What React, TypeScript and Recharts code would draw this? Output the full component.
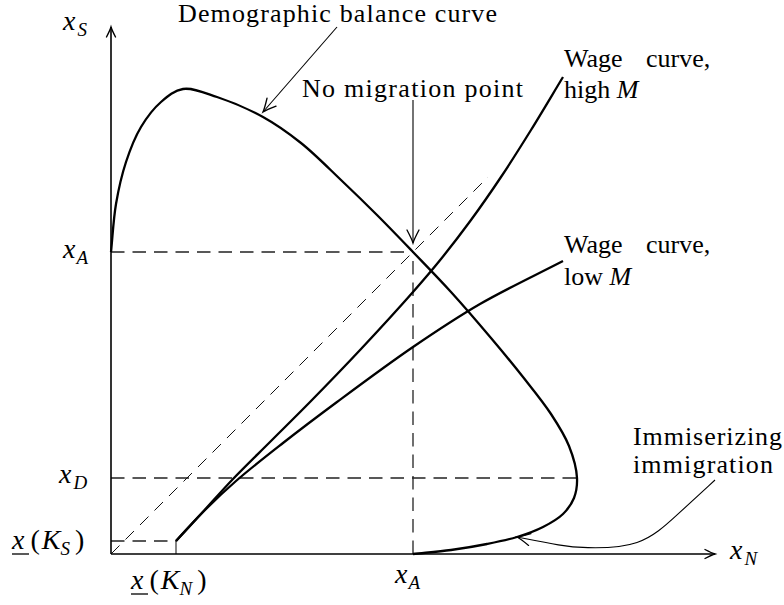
import React from 'react';
import { LineChart, Line, XAxis, YAxis, ReferenceDot } from 'recharts';

type Pt = { x: number; y: number };

// ---- axis extents and reference levels (data units) ----
const X_MAX = 604;
const Y_MAX = 527;
const XA = 302; // x_A
const XD = 76; // x_D
const XKS = 13; // x(K_S)
const XKN = 65; // x(K_N)
const DIAG_END = 377;

// ---- curves ----
const demographicCurve: Pt[] = [
  { x: 0, y: 302 }, { x: 5, y: 350 }, { x: 15, y: 392 }, { x: 30, y: 427 },
  { x: 50, y: 452 }, { x: 72, y: 465 }, { x: 106, y: 457 }, { x: 152, y: 437 },
  { x: 190, y: 411 }, { x: 230, y: 374 }, { x: 266, y: 339 }, { x: 302, y: 302 },
  { x: 340, y: 262 }, { x: 380, y: 216 }, { x: 412, y: 177 }, { x: 440, y: 140 },
  { x: 458, y: 108 }, { x: 466, y: 76 }, { x: 463, y: 56 }, { x: 452, y: 40 },
  { x: 432, y: 27 }, { x: 406, y: 17 }, { x: 376, y: 10 }, { x: 340, y: 4 },
  { x: 302, y: 0 },
];

const wageHighM: Pt[] = [
  { x: 65, y: 13 }, { x: 90, y: 40 }, { x: 122, y: 75 }, { x: 160, y: 113 },
  { x: 200, y: 153 }, { x: 250, y: 205 }, { x: 302, y: 262 }, { x: 330, y: 295 },
  { x: 360, y: 334 }, { x: 390, y: 377 }, { x: 420, y: 424 }, { x: 452, y: 477 },
];

const wageLowM: Pt[] = [
  { x: 65, y: 13 }, { x: 90, y: 40 }, { x: 125, y: 73 }, { x: 172, y: 111 },
  { x: 226, y: 152 }, { x: 302, y: 207 }, { x: 369, y: 250 }, { x: 452, y: 293 },
];

// ---- guide lines ----
const guideXAh: Pt[] = [{ x: 0, y: XA }, { x: XA, y: XA }];
const guideXAv: Pt[] = [{ x: XA, y: 0 }, { x: XA, y: XA }];
const guideXD: Pt[] = [{ x: 0, y: XD }, { x: 466, y: XD }];
const guideKS: Pt[] = [{ x: 0, y: XKS }, { x: XKN, y: XKS }];
const guideKN: Pt[] = [{ x: XKN, y: 0 }, { x: XKN, y: XKS }];
const diagonal: Pt[] = [{ x: 0, y: 0 }, { x: DIAG_END, y: DIAG_END }];

// ---- axes and annotation arrows ----
const xAxisLine: Pt[] = [{ x: 0, y: 0 }, { x: X_MAX, y: 0 }];
const yAxisLine: Pt[] = [{ x: 0, y: 0 }, { x: 0, y: Y_MAX }];
const demoArrow: Pt[] = [{ x: 226, y: 527 }, { x: 152, y: 442 }];
const noMigArrow: Pt[] = [{ x: 302, y: 454 }, { x: 302, y: 311 }];
const immArrow: Pt[] = [
  { x: 604, y: 74 }, { x: 566, y: 39 }, { x: 530, y: 6 },
  { x: 470, y: 6 }, { x: 452, y: 8 }, { x: 406, y: 17 },
];

const SERIF = '"Liberation Serif", "Times New Roman", serif';
const TXT = 26;
const SUB = 19;
const MATH = 28;

// centripetal Catmull-Rom curve factory (smooth curve through the read points)
const catmullRom = (context: any) => {
  let pts: number[][] = [];
  return {
    areaStart() {},
    areaEnd() {},
    lineStart() {
      pts = [];
    },
    point(x: number, y: number) {
      pts.push([+x, +y]);
    },
    lineEnd() {
      const n = pts.length;
      if (n === 0) return;
      context.moveTo(pts[0][0], pts[0][1]);
      if (n === 1) return;
      if (n === 2) {
        context.lineTo(pts[1][0], pts[1][1]);
        return;
      }
      for (let i = 0; i < n - 1; i++) {
        const p1 = pts[i];
        const p2 = pts[i + 1];
        const p0 = i > 0 ? pts[i - 1] : [2 * p1[0] - p2[0], 2 * p1[1] - p2[1]];
        const p3 = i < n - 2 ? pts[i + 2] : [2 * p2[0] - p1[0], 2 * p2[1] - p1[1]];
        const l01 = Math.sqrt(Math.hypot(p1[0] - p0[0], p1[1] - p0[1]));
        const l12 = Math.sqrt(Math.hypot(p2[0] - p1[0], p2[1] - p1[1]));
        const l23 = Math.sqrt(Math.hypot(p3[0] - p2[0], p3[1] - p2[1]));
        let c1x = p1[0], c1y = p1[1], c2x = p2[0], c2y = p2[1];
        if (l01 > 1e-6) {
          const a = 2 * l01 * l01 + 3 * l01 * l12 + l12 * l12;
          const m = 3 * l01 * (l01 + l12);
          c1x = (p1[0] * a - p0[0] * l12 * l12 + p2[0] * l01 * l01) / m;
          c1y = (p1[1] * a - p0[1] * l12 * l12 + p2[1] * l01 * l01) / m;
        }
        if (l23 > 1e-6) {
          const b = 2 * l23 * l23 + 3 * l23 * l12 + l12 * l12;
          const m = 3 * l23 * (l23 + l12);
          c2x = (p2[0] * b + p1[0] * l23 * l23 - p3[0] * l12 * l12) / m;
          c2y = (p2[1] * b + p1[1] * l23 * l23 - p3[1] * l12 * l12) / m;
        }
        context.bezierCurveTo(c1x, c1y, c2x, c2y, p2[0], p2[1]);
      }
    },
  };
};

const arrowDot = (data: Pt[], len: number, half: number, sw: number) => (props: any) => {
  const { cx, cy, index } = props;
  const k = `ad-${index}`;
  if (index !== data.length - 1 || cx == null || cy == null) return <g key={k} />;
  const a = data[index];
  const b = data[index - 1];
  const ang = (Math.atan2(-(a.y - b.y), a.x - b.x) * 180) / Math.PI;
  const d = `M ${-len} ${-half} Q ${-len * 0.3} ${-half * 0.2} 0 0 Q ${-len * 0.3} ${half * 0.2} ${-len} ${half}`;
  return (
    <path
      key={k}
      transform={`translate(${cx},${cy}) rotate(${ang})`}
      d={d}
      fill="none"
      stroke="#000"
      strokeWidth={sw}
      strokeLinecap="round"
    />
  );
};

const plain = (s: string, width?: number) => (p: any) => (
  <text
    x={p.cx}
    y={p.cy}
    style={{ fontFamily: SERIF }}
    fontSize={TXT}
    fill="#000"
    textLength={width}
    lengthAdjust={width ? 'spacing' : undefined}
  >
    {s}
  </text>
);

const withM = (s: string) => (p: any) => (
  <text x={p.cx} y={p.cy} style={{ fontFamily: SERIF }} fontSize={TXT} fill="#000">
    <tspan>{s}</tspan>
    <tspan fontStyle="italic">M</tspan>
  </text>
);

const mathSub = (main: string, sub: string, gap: number) => (p: any) => (
  <text x={p.cx} y={p.cy} style={{ fontFamily: SERIF }} fill="#000" fontStyle="italic">
    <tspan fontSize={MATH}>{main}</tspan>
    <tspan fontSize={SUB} dx={gap} dy={6}>{sub}</tspan>
  </text>
);

const underX = (sub: string) => (p: any) => (
  <g>
    <text x={p.cx} y={p.cy} style={{ fontFamily: SERIF }} fill="#000">
      <tspan fontSize={MATH} fontStyle="italic">x</tspan>
      <tspan fontSize={MATH} dx={6}>(</tspan>
      <tspan fontSize={MATH} fontStyle="italic" dx={2}>K</tspan>
      <tspan fontSize={SUB} fontStyle="italic" dx={0} dy={6}>{sub}</tspan>
      <tspan fontSize={MATH} dx={5} dy={-6}>)</tspan>
    </text>
    <line x1={p.cx} x2={p.cx + 17} y1={p.cy + 5} y2={p.cy + 5} stroke="#000" strokeWidth={1.3} />
  </g>
);

const dashStyle = { stroke: '#222', strokeWidth: 1.3, strokeDasharray: '13.5 8' };

export default function App() {
  return (
    <div style={{ position: 'absolute', left: 0, top: 0, background: '#fff' }}>
      <LineChart
        width={784}
        height={605}
        margin={{ top: 27, right: 784 - 111 - X_MAX, bottom: 605 - 554, left: 111 }}
      >
        <XAxis type="number" dataKey="x" domain={[0, X_MAX]} hide />
        <YAxis type="number" dataKey="y" domain={[0, Y_MAX]} hide />

        <Line data={guideXAh} dataKey="y" type="linear" dot={false} activeDot={false} isAnimationActive={false} {...dashStyle} />
        <Line data={guideXAv} dataKey="y" type="linear" dot={false} activeDot={false} isAnimationActive={false} {...dashStyle} />
        <Line data={guideXD} dataKey="y" type="linear" dot={false} activeDot={false} isAnimationActive={false} {...dashStyle} />
        <Line data={guideKS} dataKey="y" type="linear" dot={false} activeDot={false} isAnimationActive={false} {...dashStyle} />
        <Line data={guideKN} dataKey="y" type="linear" dot={false} activeDot={false} isAnimationActive={false} stroke="#333" strokeWidth={1.2} />
        <Line data={diagonal} dataKey="y" type="linear" dot={false} activeDot={false} isAnimationActive={false} stroke="#111" strokeWidth={1} strokeDasharray="12 8.5" />

        <Line data={demographicCurve} dataKey="y" type={catmullRom as any} dot={false} activeDot={false} isAnimationActive={false} stroke="#000" strokeWidth={2.3} />
        <Line data={wageHighM} dataKey="y" type={catmullRom as any} dot={false} activeDot={false} isAnimationActive={false} stroke="#000" strokeWidth={2.3} />
        <Line data={wageLowM} dataKey="y" type={catmullRom as any} dot={false} activeDot={false} isAnimationActive={false} stroke="#000" strokeWidth={2.3} />

        <Line data={xAxisLine} dataKey="y" type="linear" dot={arrowDot(xAxisLine, 10, 4.5, 1.4)} activeDot={false} isAnimationActive={false} stroke="#000" strokeWidth={1.6} />
        <Line data={yAxisLine} dataKey="y" type="linear" dot={arrowDot(yAxisLine, 10, 4.5, 1.4)} activeDot={false} isAnimationActive={false} stroke="#000" strokeWidth={1.6} />

        <Line data={demoArrow} dataKey="y" type="linear" dot={arrowDot(demoArrow, 13, 6, 1.3)} activeDot={false} isAnimationActive={false} stroke="#000" strokeWidth={1.1} />
        <Line data={noMigArrow} dataKey="y" type="linear" dot={arrowDot(noMigArrow, 13, 6, 1.3)} activeDot={false} isAnimationActive={false} stroke="#000" strokeWidth={1.1} />
        <Line data={immArrow} dataKey="y" type="basis" dot={arrowDot(immArrow, 13, 6, 1.3)} activeDot={false} isAnimationActive={false} stroke="#000" strokeWidth={1.1} />

        {/* annotation texts */}
        <ReferenceDot x={67} y={532} r={0} ifOverflow="visible" shape={plain('Demographic balance curve', 319)} />
        <ReferenceDot x={191} y={457} r={0} ifOverflow="visible" shape={plain('No migration point', 221)} />
        <ReferenceDot x={453} y={487} r={0} ifOverflow="visible" shape={plain('Wage')} />
        <ReferenceDot x={535} y={487} r={0} ifOverflow="visible" shape={plain('curve,')} />
        <ReferenceDot x={453} y={456} r={0} ifOverflow="visible" shape={withM('high ')} />
        <ReferenceDot x={453} y={301} r={0} ifOverflow="visible" shape={plain('Wage')} />
        <ReferenceDot x={535} y={301} r={0} ifOverflow="visible" shape={plain('curve,')} />
        <ReferenceDot x={453} y={269} r={0} ifOverflow="visible" shape={withM('low ')} />
        <ReferenceDot x={522} y={109} r={0} ifOverflow="visible" shape={plain('Immiserizing', 149)} />
        <ReferenceDot x={522} y={81} r={0} ifOverflow="visible" shape={plain('immigration', 140)} />

        {/* axis labels */}
        <ReferenceDot x={-48} y={524} r={0} ifOverflow="visible" shape={mathSub('x', 'S', 2)} />
        <ReferenceDot x={-48} y={296} r={0} ifOverflow="visible" shape={mathSub('x', 'A', 1)} />
        <ReferenceDot x={-52} y={71} r={0} ifOverflow="visible" shape={mathSub('x', 'D', 2)} />
        <ReferenceDot x={-99} y={5} r={0} ifOverflow="visible" shape={underX('S')} />
        <ReferenceDot x={20} y={-35} r={0} ifOverflow="visible" shape={underX('N')} />
        <ReferenceDot x={284} y={-29} r={0} ifOverflow="visible" shape={mathSub('x', 'A', 1)} />
        <ReferenceDot x={619} y={-5} r={0} ifOverflow="visible" shape={mathSub('x', 'N', 2)} />
      </LineChart>
    </div>
  );
}
